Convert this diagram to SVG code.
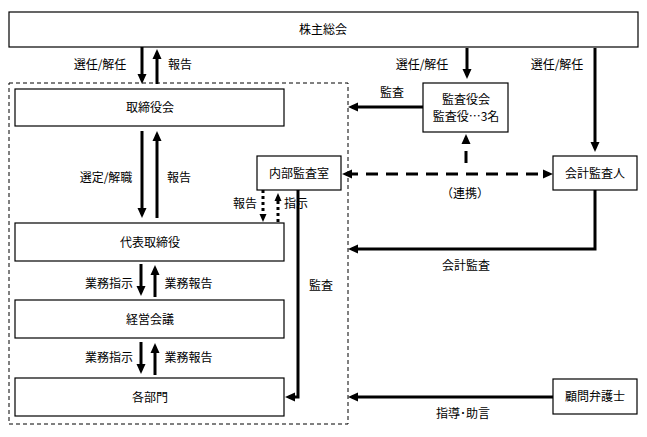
<svg xmlns="http://www.w3.org/2000/svg" width="647" height="437" viewBox="0 0 647 437">
<style>
.box{fill:#fff;stroke:#000;stroke-width:1.2}
.t{font-family:"Noto Sans CJK JP","Liberation Sans",sans-serif;font-size:12px;fill:#000;text-anchor:middle}
.ln{fill:none;stroke:#000;stroke-width:3}
.dash{fill:none;stroke:#000;stroke-width:3;stroke-dasharray:12 8}
.dot{fill:none;stroke:#000;stroke-width:3;stroke-dasharray:3 3}
.frame{fill:none;stroke:#000;stroke-width:1;stroke-dasharray:4 3}
</style>
<defs>
<marker id="ah" markerUnits="userSpaceOnUse" markerWidth="10" markerHeight="10" refX="6" refY="5" orient="auto-start-reverse" viewBox="0 0 10 10">
<path d="M0,0.5 L10,5 L0,9.5 z" fill="#000"/>
</marker>
<marker id="ahs" markerUnits="userSpaceOnUse" markerWidth="8" markerHeight="8" refX="4" refY="4" orient="auto-start-reverse" viewBox="0 0 8 8">
<path d="M0,0.5 L8,4 L0,7.5 z" fill="#000"/>
</marker>
</defs>
<rect width="647" height="437" fill="#fff"/>

<rect class="frame" x="9" y="83" width="339" height="341"/>

<g id="kabunushi"><rect class="box" x="9" y="12" width="629" height="35"/><text class="t" x="323" y="34">株主総会</text></g>
<g id="torishimariyakukai"><rect class="box" x="15" y="89" width="269" height="37"/><text class="t" x="150" y="112">取締役会</text></g>
<g id="naibukansa"><rect class="box" x="257" y="156" width="84" height="34"/><text class="t" x="299" y="177.5">内部監査室</text></g>
<g id="daihyo"><rect class="box" x="15" y="223" width="269" height="38"/><text class="t" x="150" y="246.5">代表取締役</text></g>
<g id="keiei"><rect class="box" x="15" y="300" width="269" height="38"/><text class="t" x="150" y="323.5">経営会議</text></g>
<g id="kakubumon"><rect class="box" x="15" y="378" width="269" height="38"/><text class="t" x="150" y="401.5">各部門</text></g>
<g id="kansayakukai"><rect class="box" x="423" y="83" width="85" height="49"/><text class="t" x="466" y="104">監査役会</text><text class="t" x="466" y="120.5">監査役…3名</text></g>
<g id="kaikeikansanin"><rect class="box" x="553" y="156" width="84" height="34"/><text class="t" x="595" y="177.5">会計監査人</text></g>
<g id="komonbengoshi"><rect class="box" x="553" y="379" width="84" height="35"/><text class="t" x="595" y="401">顧問弁護士</text></g>

<g id="connectors">
<line class="ln" x1="142" y1="47" x2="142" y2="80" marker-end="url(#ah)"/>
<line class="ln" x1="157" y1="84" x2="157" y2="53" marker-end="url(#ah)"/>
<line class="ln" x1="467" y1="48" x2="467" y2="75" marker-end="url(#ah)"/>
<line class="ln" x1="595" y1="48" x2="595" y2="148" marker-end="url(#ah)"/>
<line class="ln" x1="142" y1="131" x2="142" y2="214" marker-end="url(#ah)"/>
<line class="ln" x1="157" y1="218" x2="157" y2="135" marker-end="url(#ah)"/>
<line class="dot" x1="263" y1="190" x2="263" y2="218" marker-end="url(#ahs)"/>
<line class="dot" x1="278" y1="222" x2="278" y2="197" marker-end="url(#ahs)"/>
<line class="ln" x1="141" y1="264" x2="141" y2="292" marker-end="url(#ah)"/>
<line class="ln" x1="155" y1="297" x2="155" y2="269" marker-end="url(#ah)"/>
<line class="ln" x1="141" y1="342" x2="141" y2="370" marker-end="url(#ah)"/>
<line class="ln" x1="155" y1="375" x2="155" y2="347" marker-end="url(#ah)"/>
<polyline class="ln" points="298,190 298,397 289,397" marker-end="url(#ah)"/>
<line class="ln" x1="423" y1="107" x2="352" y2="107" marker-end="url(#ah)"/>
<line class="dash" x1="466" y1="163" x2="466" y2="138" marker-end="url(#ah)"/>
<line class="dash" x1="346" y1="174" x2="549" y2="174" marker-start="url(#ah)" marker-end="url(#ah)" stroke-dasharray="0 8 12 8 12 8 12 8 12 8 12 8 12 8 12 8 12 8 12 8 12 8 12"/>
<polyline class="ln" points="595,190 595,249 352,249" marker-end="url(#ah)"/>
<line class="ln" x1="553" y1="397" x2="352" y2="397" marker-end="url(#ah)"/>
</g>

<g id="labels">
<text class="t" x="100" y="69">選任/解任</text>
<text class="t" x="180" y="69">報告</text>
<text class="t" x="422" y="69">選任/解任</text>
<text class="t" x="557" y="69">選任/解任</text>
<text class="t" x="392" y="97">監査</text>
<text class="t" x="106" y="181.5">選定/解職</text>
<text class="t" x="179" y="181.5">報告</text>
<text class="t" x="245" y="207.5">報告</text>
<text class="t" x="296" y="207.5">指示</text>
<text class="t" x="465" y="197.5">（連携）</text>
<text class="t" x="466" y="269.5">会計監査</text>
<text class="t" x="321" y="289.5">監査</text>
<text class="t" x="109" y="287.5">業務指示</text>
<text class="t" x="188.5" y="287.5">業務報告</text>
<text class="t" x="109" y="362">業務指示</text>
<text class="t" x="188.5" y="362">業務報告</text>
<text class="t" x="463" y="417.5">指導･助言</text>
</g>
</svg>
